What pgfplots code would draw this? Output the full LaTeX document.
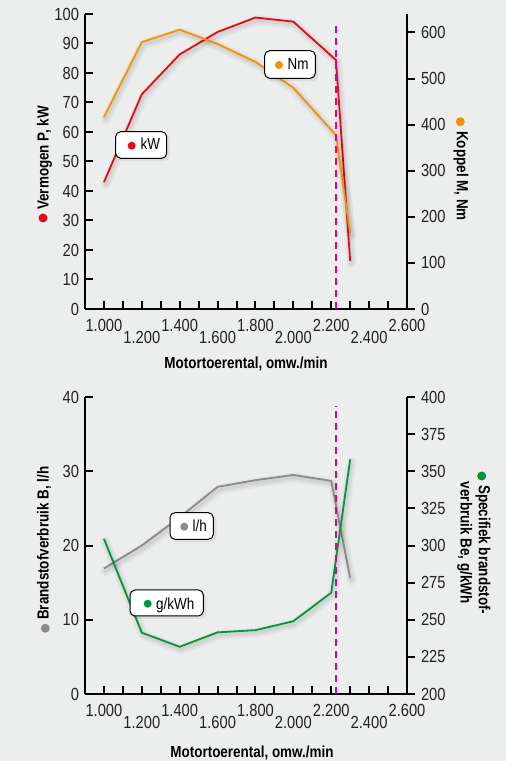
\documentclass[border=0pt]{standalone}
\usepackage{fontspec}
\setmainfont{Liberation Sans}[FakeStretch=0.84]
\usepackage{pgfplots}
\usepackage{pgfplotstable}
\pgfplotsset{compat=1.18}
\definecolor{bg}{HTML}{ECEDED}
\definecolor{cred}{HTML}{E30A1A}
\definecolor{corange}{HTML}{F39200}
\definecolor{cgray}{HTML}{8A8A8A}
\definecolor{cgreen}{HTML}{00963C}
\definecolor{cmag}{HTML}{E5007D}
\definecolor{ctext}{HTML}{222222}
\newcommand{\labfont}{\fontsize{16}{16}\selectfont\bfseries}
\newcommand{\boxfont}{\fontsize{16}{16}\selectfont}

\pgfplotstableread{
rpm kW Nm
1000 43.0 416
1200 72.8 579
1400 86.3 606
1600 93.9 575
1800 98.8 536
2000 97.4 480
2225 84.4 377
2300 16.3 164
}\toptable

\pgfplotstableread{
rpm lh gkwh
1000 16.9 304.5
1200 20.0 241.3
1400 23.8 231.8
1600 27.9 241.5
1800 28.8 243.0
2000 29.5 249.0
2200 28.7 268.2
2300 15.6 358.0
}\bottable

\pgfplotsset{
  shad/.style={draw=black, line width=#1, opacity=0.035, line join=round, line cap=round, xshift=1.5pt, yshift=-2.5pt, forget plot, mark=none},
  dataline/.style={line width=1.8pt, line join=round, mark=none},
  common/.style={
    scale only axis, width=322pt,
    xmin=900, xmax=2600,
    axis line style={line width=2.2pt},
    tick style={line width=2pt, black},
    major tick length=8pt, minor tick length=8pt,
    tick label style={font=\fontsize{17.5}{17.5}\selectfont, text=ctext, inner sep=1pt},
    /pgf/number format/assume math mode=true,
    clip=false,
  },
  leftax/.style={common,
    axis x line*=bottom, axis y line*=left,
    tick align=inside,
    xtick={1000,1400,1800,2200,2600},
    xticklabels={1.000,1.400,1.800,2.200,2.600},
    xticklabel style={yshift=-9.3pt},
    yticklabel style={xshift=-4.8pt},
    extra x ticks={1200,1600,2000,2400},
    extra x tick labels={1.200,1.600,2.000,2.400},
    extra x tick style={tick label style={yshift=-12pt}},
    minor xtick={1100,1300,...,2500},
  },
  rightax/.style={common,
    axis x line=none, axis y line*=right,
    tick align=outside,
    yticklabel style={xshift=4.8pt},
  },
}

\begin{document}
\begin{tikzpicture}
\fill[bg] (0pt,0pt) rectangle (506pt,761pt);

% ---------------- top panel ----------------
\begin{axis}[leftax, at={(85pt,452pt)}, anchor=south west, height=295pt,
  ymin=0, ymax=100, ytick={0,10,...,100}]
  \addplot[shad=10pt] table[x=rpm,y=kW]{\toptable};
  \addplot[shad=6pt] table[x=rpm,y=kW]{\toptable};
  \addplot[shad=3pt] table[x=rpm,y=kW]{\toptable};
  \addplot[dataline, cred] table[x=rpm,y=kW]{\toptable};
\end{axis}
\begin{axis}[rightax, at={(85pt,452pt)}, anchor=south west, height=295pt,
  ymin=0, ymax=640, ytick={0,100,...,600}]
  \addplot[shad=10pt] table[x=rpm,y=Nm]{\toptable};
  \addplot[shad=6pt] table[x=rpm,y=Nm]{\toptable};
  \addplot[shad=3pt] table[x=rpm,y=Nm]{\toptable};
  \addplot[dataline, corange] table[x=rpm,y=Nm]{\toptable};
  \addplot[cmag, line width=1.3pt, dash pattern=on 7pt off 5pt] coordinates {(2225,0) (2225,621)};
\end{axis}

% ---------------- bottom panel ----------------
\begin{axis}[leftax, at={(85pt,67pt)}, anchor=south west, height=297pt,
  ymin=0, ymax=40, ytick={0,10,...,40}]
  \addplot[shad=10pt] table[x=rpm,y=lh]{\bottable};
  \addplot[shad=6pt] table[x=rpm,y=lh]{\bottable};
  \addplot[shad=3pt] table[x=rpm,y=lh]{\bottable};
  \addplot[dataline, cgray] table[x=rpm,y=lh]{\bottable};
\end{axis}
\begin{axis}[rightax, at={(85pt,67pt)}, anchor=south west, height=297pt,
  ymin=200, ymax=400, ytick={200,225,...,400}]
  \addplot[shad=10pt] table[x=rpm,y=gkwh]{\bottable};
  \addplot[shad=6pt] table[x=rpm,y=gkwh]{\bottable};
  \addplot[shad=3pt] table[x=rpm,y=gkwh]{\bottable};
  \addplot[dataline, cgreen] table[x=rpm,y=gkwh]{\bottable};
  \addplot[cmag, line width=1.3pt, dash pattern=on 7pt off 5pt] coordinates {(2225,200) (2225,394)};
\end{axis}

% ---------------- axis titles ----------------
\fill[cred] (43pt,543pt) circle (4.5pt);
\node[rotate=90, anchor=west, font=\labfont, inner sep=0pt] at (44.5pt,551pt) {Vermogen P, kW};
\fill[corange] (460.3pt,639.3pt) circle (4.5pt);
\node[rotate=-90, anchor=west, font=\labfont, inner sep=0pt] at (461pt,630pt) {Koppel M, Nm};
\node[font=\labfont] at (246pt,397pt) {Motortoerental, omw./min};

\fill[cgray] (45.3pt,132.7pt) circle (4.5pt);
\node[rotate=90, anchor=west, font=\labfont, inner sep=0pt] at (44pt,141pt) {Brandstofverbruik B, l/h};
\fill[cgreen] (481.7pt,285pt) circle (4.5pt);
\node[rotate=-90, anchor=west, font=\labfont, inner sep=0pt] at (483pt,276pt) {Specifiek brandstof-};
\node[rotate=-90, anchor=west, font=\labfont, inner sep=0pt] at (464.7pt,279.3pt) {verbruik Be, g/kWh};
\node[font=\labfont] at (252pt,8pt) {Motortoerental, omw./min};

% ---------------- label boxes ----------------
% kW
\fill[black,opacity=0.07,rounded corners=5pt] (117.7pt,599.7pt) rectangle (169.7pt,627.3pt);
\filldraw[fill=white, draw=black, line width=1pt, rounded corners=5pt] (115.7pt,602.7pt) rectangle (166.7pt,629.3pt);
\fill[cred] (131.7pt,615.3pt) circle (4pt);
\node[anchor=base west, inner sep=0pt, font=\boxfont] at (140.5pt,611pt) {kW};
% Nm
\fill[black,opacity=0.07,rounded corners=5pt] (266.7pt,679.7pt) rectangle (318.3pt,708.3pt);
\filldraw[fill=white, draw=black, line width=1pt, rounded corners=5pt] (264.7pt,682.7pt) rectangle (315.3pt,710.3pt);
\fill[corange] (279pt,696pt) circle (4pt);
\node[anchor=base west, inner sep=0pt, font=\boxfont] at (287.5pt,691pt) {Nm};
% l/h
\fill[black,opacity=0.07,rounded corners=5pt] (172pt,218.7pt) rectangle (216.3pt,246.3pt);
\filldraw[fill=white, draw=black, line width=1pt, rounded corners=5pt] (170pt,221.7pt) rectangle (213.3pt,248.3pt);
\fill[cgray] (184.3pt,234.3pt) circle (4pt);
\node[anchor=base west, inner sep=0pt, font=\boxfont] at (192.5pt,229.3pt) {l/h};
% g/kWh
\fill[black,opacity=0.07,rounded corners=5pt] (132pt,142pt) rectangle (206.3pt,169pt);
\filldraw[fill=white, draw=black, line width=1pt, rounded corners=5pt] (130pt,145pt) rectangle (203.3pt,171pt);
\fill[cgreen] (147.7pt,157.3pt) circle (4pt);
\node[anchor=base west, inner sep=0pt, font=\boxfont] at (156pt,151.7pt) {g/kWh};

\pgfresetboundingbox
\useasboundingbox (0pt,0pt) rectangle (506pt,761pt);
\end{tikzpicture}
\end{document}
